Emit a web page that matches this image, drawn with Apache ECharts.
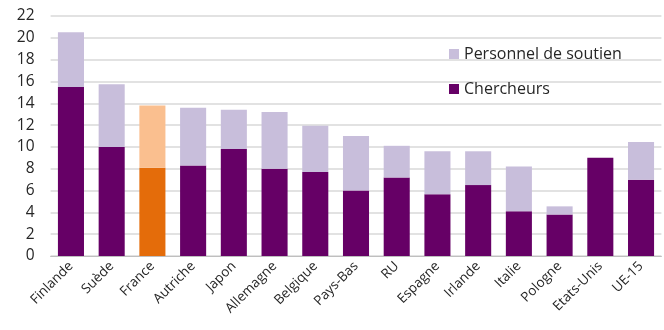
<!DOCTYPE html>
<html>
<head>
<meta charset="utf-8">
<script src="https://cdn.jsdelivr.net/npm/echarts@6/dist/echarts.min.js"></script>
<style>
  html, body { margin: 0; padding: 0; background: #fff; }
  #chart { width: 664px; height: 330px; }
</style>
</head>
<body>
<div id="chart"></div>
<script>
// Pays comparés
const pays = ['Finlande', 'Suède', 'France', 'Autriche', 'Japon', 'Allemagne', 'Belgique',
  'Pays-Bas', 'RU', 'Espagne', 'Irlande', 'Italie', 'Pologne', 'Etats-Unis', 'UE-15'];
// Chercheurs
const chercheurs = [15.5, 10.0, 8.1, 8.3, 9.8, 8.0, 7.7, 6.0, 7.2, 5.65, 6.5, 4.1, 3.8, 9.0, 7.0];
// Personnel de soutien (empilé sur les chercheurs)
const soutien = [5.0, 5.75, 5.7, 5.3, 3.6, 5.2, 4.25, 5.0, 2.9, 3.95, 3.1, 4.1, 0.75, 0, 3.45];
const yTicks = [0, 2, 4, 6, 8, 10, 12, 14, 16, 18, 20, 22];

const highlight = 'France';
const cDark = '#660066', cLight = '#c8bedb';
const oDark = '#e46c0a', oLight = '#fabf8f';

const mk = (vals, normal, special) => vals.map((v, i) => ({
  value: v,
  itemStyle: { color: pays[i] === highlight ? special : normal }
}));

const chart = echarts.init(document.getElementById('chart'), null, { renderer: 'canvas' });
chart.setOption({
  animation: false,
  textStyle: { fontFamily: 'Open Sans' },
  grid: { left: 50.6, right: 2.6, top: 16, bottom: 74 },
  legend: {
    orient: 'vertical',
    left: 444,
    top: 41,
    itemWidth: 10,
    itemHeight: 10,
    itemGap: 19,
    icon: 'rect',
    textStyle: { fontSize: 16, color: '#262626', fontFamily: 'Open Sans' },
    data: ['Personnel de soutien', 'Chercheurs']
  },
  xAxis: {
    type: 'category',
    data: pays,
    axisLine: { lineStyle: { color: '#bfbfbf', width: 1 } },
    axisTick: { show: false },
    axisLabel: {
      interval: 0,
      rotate: 45,
      fontSize: 13.5,
      color: '#262626',
      margin: 8
    }
  },
  yAxis: {
    type: 'value',
    min: 0,
    max: 22,
    interval: 2,
    axisLine: { show: false },
    axisTick: { show: false },
    splitLine: { lineStyle: { color: '#d9d9d9', width: 1.5 } },
    axisLabel: {
      fontSize: 15.5,
      color: '#262626',
      margin: 16,
      formatter: v => yTicks.includes(v) ? String(v) : ''
    }
  },
  series: [
    {
      name: 'Chercheurs',
      type: 'bar',
      stack: 'total',
      barWidth: '64%',
      itemStyle: { color: cDark },
      data: mk(chercheurs, cDark, oDark)
    },
    {
      name: 'Personnel de soutien',
      type: 'bar',
      stack: 'total',
      barWidth: '64%',
      itemStyle: { color: cLight },
      data: mk(soutien, cLight, oLight)
    }
  ]
});
</script>
</body>
</html>
